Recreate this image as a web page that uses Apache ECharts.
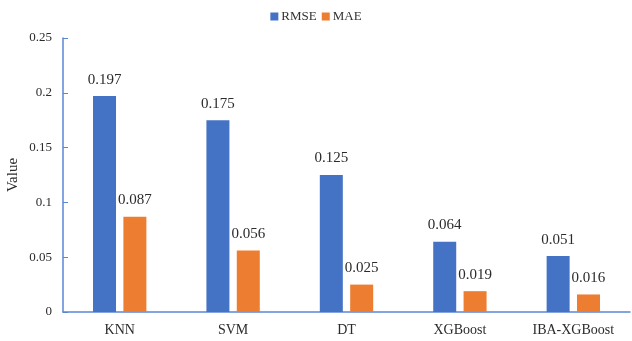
<!DOCTYPE html>
<html>
<head>
<meta charset="utf-8">
<script src="https://cdn.jsdelivr.net/npm/echarts@6/dist/echarts.min.js"></script>
<style>
  html, body { margin: 0; padding: 0; background: #fff; }
  #chart { width: 632px; height: 341px; }
</style>
</head>
<body>
<div id="chart"></div>
<script>
// Error metrics of each model
const models = ['KNN', 'SVM', 'DT', 'XGBoost', 'IBA-XGBoost'];
const rmse = [0.197, 0.175, 0.125, 0.064, 0.051];
const mae = [0.087, 0.056, 0.025, 0.019, 0.016];
const yTicks = [0, 0.05, 0.1, 0.15, 0.2, 0.25];

const serif = '"Liberation Serif", "Times New Roman", serif';
const axisBlue = '#5a86d6';

const chart = echarts.init(document.getElementById('chart'));

function barSeries(name, values, color) {
  return {
    name: name,
    type: 'bar',
    data: values,
    barWidth: 23,
    barGap: '32%',
    itemStyle: { color: color },
    label: {
      show: true,
      position: 'top',
      distance: 9,
      fontFamily: serif,
      fontSize: 15,
      color: '#2b2b2b',
      formatter: p => String(p.value)
    }
  };
}

chart.setOption({
  animation: false,
  textStyle: { fontFamily: serif },
  legend: {
    top: 5,
    left: 'center',
    itemWidth: 8,
    itemHeight: 8,
    itemGap: 5,
    icon: 'rect',
    textStyle: { fontFamily: serif, fontSize: 13, color: '#333', padding: [0, 0, 0, -2] },
    data: ['RMSE', 'MAE']
  },
  grid: { left: 63, right: 2, top: 38, bottom: 29, containLabel: false, outerBoundsMode: 'none' },
  xAxis: {
    type: 'category',
    data: models,
    axisLine: { lineStyle: { color: axisBlue, width: 1.5 } },
    axisTick: { inside: true, length: 5, lineStyle: { color: axisBlue } },
    axisLabel: { fontFamily: serif, fontSize: 14, color: '#2b2b2b', margin: 11 }
  },
  yAxis: {
    type: 'value',
    min: yTicks[0],
    max: yTicks[yTicks.length - 1],
    interval: 0.05,
    name: 'Value',
    nameLocation: 'middle',
    nameGap: 42,
    nameMoveOverlap: false,
    nameTextStyle: { fontFamily: serif, fontSize: 15, color: '#2b2b2b' },
    splitLine: { show: false },
    axisLine: { show: true, lineStyle: { color: axisBlue, width: 1.5 } },
    axisTick: { show: true, inside: true, length: 5, lineStyle: { color: axisBlue } },
    axisLabel: {
      fontFamily: serif, fontSize: 13, color: '#2b2b2b', margin: 11,
      formatter: v => String(parseFloat(v.toFixed(2)))
    }
  },
  series: [
    barSeries('RMSE', rmse, '#4472c4'),
    barSeries('MAE', mae, '#ed7d31')
  ]
});
</script>
</body>
</html>
